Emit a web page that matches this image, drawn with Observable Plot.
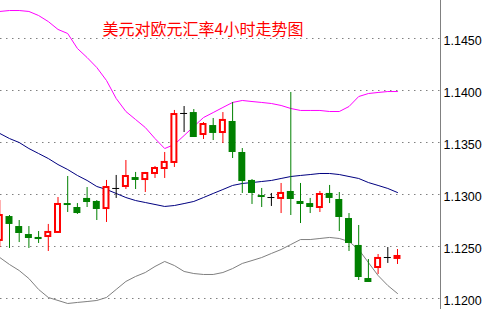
<!DOCTYPE html>
<html><head><meta charset="utf-8">
<script src="https://cdn.jsdelivr.net/npm/d3@7"></script>
<script src="https://cdn.jsdelivr.net/npm/@observablehq/plot@0.6"></script>
<style>html,body{margin:0;padding:0;background:#fff;overflow:hidden;}</style>
</head><body><div id="chart"></div>
<script>
const title = "美元对欧元汇率4小时走势图";
const yTicks = [1.1200, 1.1250, 1.1300, 1.1350, 1.1400, 1.1450];

const open  = [1.12558,1.12788,1.12692,1.12615,1.12587,1.12596,1.12635,1.12913,1.12875,1.12962,1.12933,1.12865,1.13058,1.13077,1.13163,1.13144,1.13202,1.13250,1.13308,1.13779,1.13788,1.13577,1.13663,1.13596,1.13702,1.13404,1.13135,1.12990,1.12971,1.12962,1.13029,1.12933,1.12913,1.12875,1.13010,1.12952,1.12769,1.12510,1.12192,1.12298,1.12394,1.12385];
const high  = [1.12942,1.12798,1.12750,1.12692,1.12644,1.12712,1.12971,1.13173,1.12913,1.13067,1.12942,1.13135,1.13183,1.13327,1.13212,1.13212,1.13269,1.13404,1.13808,1.13846,1.13817,1.13692,1.13731,1.13788,1.13885,1.13442,1.13144,1.13058,1.13010,1.13106,1.13981,1.13106,1.12962,1.13029,1.13087,1.13019,1.12817,1.12702,1.12375,1.12423,1.12490,1.12471];
const low   = [1.12490,1.12481,1.12538,1.12481,1.12529,1.12452,1.12625,1.12827,1.12808,1.12875,1.12750,1.12731,1.12962,1.13048,1.13048,1.13019,1.13154,1.13154,1.13260,1.13596,1.13548,1.13529,1.13519,1.13490,1.13346,1.13010,1.12904,1.12875,1.12885,1.12817,1.12798,1.12721,1.12817,1.12827,1.12913,1.12644,1.12452,1.12173,1.12154,1.12231,1.12337,1.12327];
const close = [1.12798,1.12712,1.12625,1.12577,1.12567,1.12635,1.12904,1.12894,1.12817,1.12923,1.12856,1.13067,1.13058,1.13173,1.13135,1.13202,1.13250,1.13308,1.13769,1.13779,1.13548,1.13673,1.13587,1.13712,1.13404,1.13125,1.13010,1.12971,1.12971,1.13010,1.12952,1.12904,1.12875,1.13000,1.12962,1.12779,1.12529,1.12202,1.12154,1.12385,1.12394,1.12404];

const upper  = [1.14760,1.14769,1.14769,1.14760,1.14721,1.14663,1.14587,1.14548,1.14404,1.14317,1.14221,1.14096,1.13923,1.13798,1.13721,1.13644,1.13538,1.13442,1.13481,1.13567,1.13654,1.13740,1.13788,1.13837,1.13885,1.13904,1.13894,1.13885,1.13875,1.13856,1.13827,1.13808,1.13808,1.13808,1.13798,1.13798,1.13846,1.13942,1.13971,1.13981,1.13990,1.13990];
const middle = [1.13587,1.13538,1.13500,1.13442,1.13394,1.13346,1.13288,1.13240,1.13183,1.13135,1.13077,1.13048,1.13010,1.12971,1.12942,1.12923,1.12904,1.12885,1.12894,1.12913,1.12933,1.12971,1.13010,1.13048,1.13087,1.13106,1.13115,1.13125,1.13135,1.13154,1.13173,1.13183,1.13192,1.13202,1.13202,1.13192,1.13173,1.13154,1.13115,1.13087,1.13058,1.13019];
const lower  = [1.12394,1.12327,1.12269,1.12192,1.12087,1.12010,1.11981,1.11952,1.11962,1.11971,1.11981,1.12010,1.12087,1.12164,1.12212,1.12250,1.12308,1.12356,1.12317,1.12260,1.12240,1.12231,1.12231,1.12250,1.12288,1.12337,1.12365,1.12394,1.12433,1.12471,1.12519,1.12567,1.12567,1.12577,1.12587,1.12577,1.12548,1.12471,1.12346,1.12221,1.12125,1.12048];

const bars = open.map((o, i) => ({
  i, open: o, high: high[i], low: low[i], close: close[i],
  upper: upper[i], middle: middle[i], lower: lower[i],
  kind: close[i] > o ? "up" : close[i] < o ? "down" : "flat"
}));
const ups = bars.filter(d => d.kind === "up");
const downs = bars.filter(d => d.kind === "down");
const flats = bars.filter(d => d.kind === "flat");
const wickColor = {up: "#ff0000", down: "#008000", flat: "#000000"};

const chart = Plot.plot({
  width: 484,
  height: 309,
  marginLeft: 0,
  marginRight: 44,
  marginTop: 0,
  marginBottom: 0,
  style: {background: "#ffffff", fontFamily: "Liberation Sans", overflow: "hidden"},
  x: {type: "band", domain: bars.map(d => d.i), range: [-5.55, 401.85], paddingInner: 0.28, paddingOuter: 0.14, round: false, axis: null},
  y: {domain: [1.1200, 1.1450], range: [298, 38], axis: null},
  marks: [
    Plot.gridY(yTicks, {stroke: "#808080", strokeOpacity: 1, strokeDasharray: "1.5,4.5"}),
    Plot.frame({anchor: "right", stroke: "#808080"}),
    Plot.line(bars, {x: "i", y: "upper", stroke: "#ff00ff", strokeWidth: 1}),
    Plot.line(bars, {x: "i", y: "middle", stroke: "#000080", strokeWidth: 1}),
    Plot.line(bars, {x: "i", y: "lower", stroke: "#808080", strokeWidth: 1}),
    Plot.ruleX(bars, {x: "i", y1: "low", y2: "high", stroke: d => wickColor[d.kind], strokeWidth: 1}),
    Plot.barY(downs, {x: "i", y1: "open", y2: "close", fill: "#008000"}),
    Plot.barY(ups, {x: "i", y1: "open", y2: "close", fill: "#ffffff", stroke: "#ff0000", strokeWidth: 2, insetLeft: 1, insetRight: 1}),
    Plot.tickY(flats, {x: "i", y: "open", stroke: "#000000", strokeWidth: 1}),
    Plot.axisY(yTicks, {anchor: "right", tickSize: 0, tickPadding: 3, tickFormat: d3.format(".4f"), fontSize: 12.5, fill: "#000000", dy: 2, textAnchor: "start"}),
    Plot.text([title], {frameAnchor: "top-left", dx: 102, dy: 34, lineAnchor: "bottom", textAnchor: "start", fill: "#ff0000", fontSize: 16, fontFamily: "Noto Sans CJK SC"})
  ]
});
document.getElementById("chart").appendChild(chart);
</script>
</body></html>
